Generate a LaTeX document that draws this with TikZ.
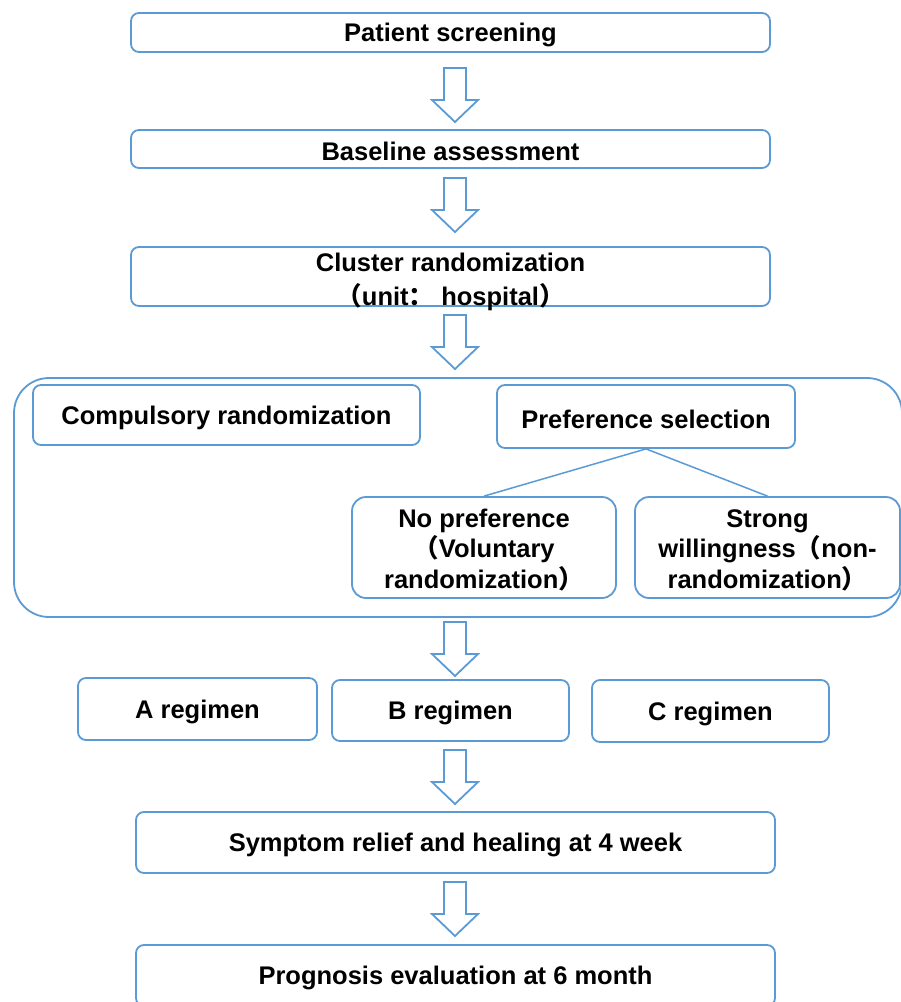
\documentclass[tikz,border=0pt]{standalone}
\usepackage{fontspec}
\setmainfont{Liberation Sans}
\newfontfamily\cjkfont{Noto Sans CJK SC}
\usetikzlibrary{positioning}
\definecolor{boxblue}{RGB}{91,155,213}
\newcommand{\flp}{{\cjkfont （}}
\newcommand{\frp}{{\cjkfont ）}}
\newcommand{\fcol}{{\cjkfont ：}}
\newcommand{\lift}[1]{\rule{0pt}{#1}}
\tikzset{
  box/.style={draw=boxblue,line width=1.8pt,rounded corners=8pt,fill=white,
    align=center,inner sep=0pt,font=\bfseries\fontsize{25.5}{30.5}\selectfont,
    execute at begin node={\lift{23.5pt}}},
  link/.style={draw=boxblue,line width=1.5pt},
  downarr/.pic={\draw[boxblue,line width=1.8pt,fill=white,line join=miter]
    (-11,0) -- (11,0) -- (11,32) -- (23,32) -- (0,54) -- (-23,32) -- (-11,32) -- cycle;}
}

\begin{document}
\begin{tikzpicture}[x=1pt,y=-1pt]
\useasboundingbox (0,0) rectangle (901,1002);
%top of the flow
\node[box,minimum width=639pt,minimum height=39pt] (screen) at (450.5,32.5) {Patient screening};
\node[box,minimum width=639pt,minimum height=38pt] (base) at (450.5,149) {Baseline assessment};
\node[box,font=\bfseries\fontsize{25.5}{34}\selectfont,inner ysep=-6pt,minimum width=639pt,minimum height=59pt] (clust) at (450.5,276.5) {\lift{28.5pt}Cluster randomization\\\flp unit\fcol{} hospital\frp};
\pic at (455,68) {downarr};
\pic at (455,178) {downarr};
\pic at (455,315) {downarr};
%randomization group
\node[box,rounded corners=35pt,minimum width=888pt,minimum height=239pt] (group) at (458,497.5) {};
\node[box,minimum width=387pt,minimum height=60pt] (compul) at (226.5,415) {Compulsory randomization};
\node[box,minimum width=298pt,minimum height=63pt] (pref) at (646,416.5) {Preference selection};
\node[box,rounded corners=14pt,minimum width=264pt,minimum height=101pt] (nopref) at (484,547.5) {\lift{23.5pt}No preference\\\flp Voluntary\\randomization\frp};
\node[box,rounded corners=14pt,minimum width=265pt,minimum height=101pt] (strong) at (767.5,547.5) {\lift{23.5pt}Strong\\willingness\flp non-\\randomization\frp};
\draw[link] (pref.south) -- (nopref.north);
\draw[link] (pref.south) -- (strong.north);
\pic at (455,622) {downarr};
%regimens
\node[box,minimum width=239pt,minimum height=62pt] (rega) at (197.5,709) {A regimen};
\node[box,minimum width=237pt,minimum height=61pt] (regb) at (450.5,710.5) {B regimen};
\node[box,minimum width=237pt,minimum height=62pt] (regc) at (710.5,711) {C regimen};
\pic at (455,750) {downarr};
%outcomes
\node[box,minimum width=639pt,minimum height=61pt] (relief) at (455.5,842.5) {Symptom relief and healing at 4 week};
\pic at (455,882) {downarr};
\node[box,minimum width=639pt,minimum height=61pt] (progn) at (455.5,975.5) {Prognosis evaluation at 6 month};
\end{tikzpicture}
\end{document}
